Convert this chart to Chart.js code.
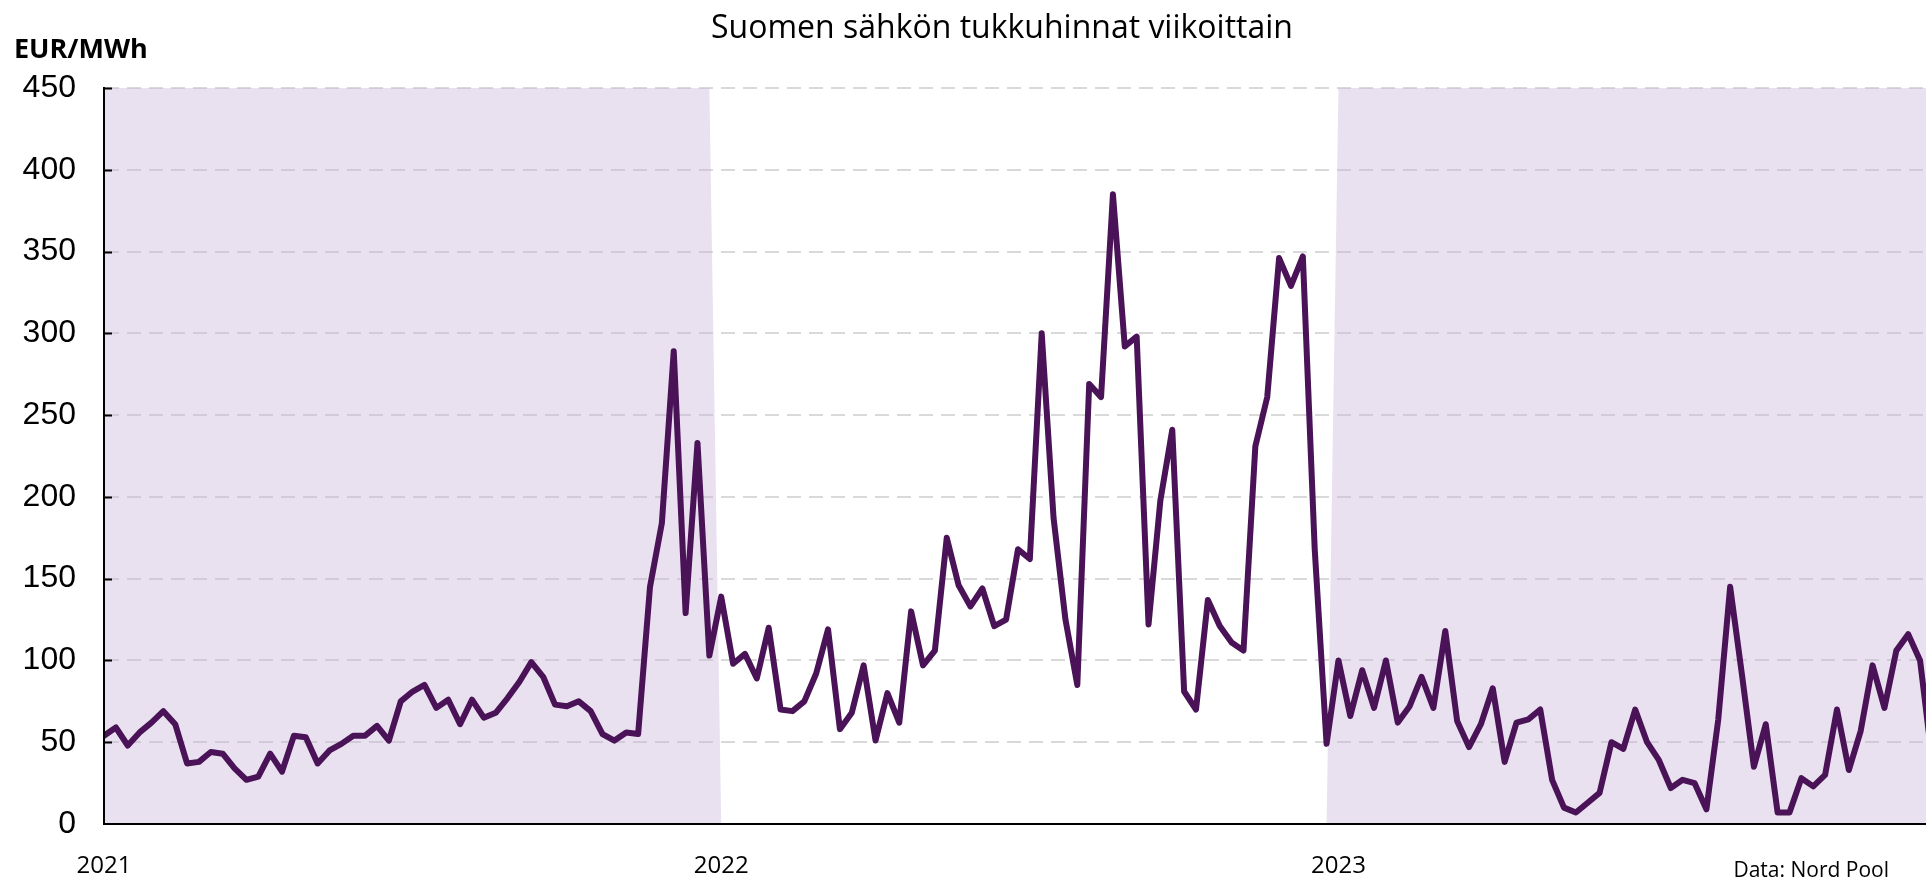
<!DOCTYPE html>
<html>
<head>
<meta charset="utf-8">
<title>Suomen sähkön tukkuhinnat viikoittain</title>
<script src="https://cdn.jsdelivr.net/npm/chart.js@4.4.1/dist/chart.umd.min.js"></script>
<style>
  html, body { margin: 0; padding: 0; background: #fff; }
  canvas { display: block; }
</style>
</head>
<body>
<canvas id="myChart" width="1926" height="879"></canvas>
<script>
const otsikko = 'Suomen sähkön tukkuhinnat viikoittain';
const yksikko = 'EUR/MWh';
const lahde = 'Data: Nord Pool';

const vuodet = ['2021', '2022', '2023'];
const varjostetut = ['2021', '2023'];

// viikkohinnat EUR/MWh, luettu kuvasta
const hinnat2021 = [54, 59, 48, 56, 62, 69, 61, 37, 38, 44, 43, 34, 27, 29, 43, 32,
  54, 53, 37, 45, 49, 54, 54, 60, 51, 75, 81, 85, 71, 76, 61, 76, 65, 68, 77, 87,
  99, 90, 73, 72, 75, 69, 55, 51, 56, 55, 145, 184, 289, 129, 233, 103];
const hinnat2022 = [139, 98, 104, 89, 120, 70, 69, 75, 92, 119, 58, 68, 97, 51, 80, 62,
  130, 97, 106, 175, 146, 133, 144, 121, 125, 168, 162, 300, 187, 125, 85, 269, 261, 385,
  292, 298, 122, 198, 241, 81, 70, 137, 121, 111, 106, 231, 261, 346, 329, 347, 168, 49];
const hinnat2023 = [100, 66, 94, 71, 100, 62, 72, 90, 71, 118, 63, 47, 61, 83, 38, 62,
  64, 70, 27, 10, 7, 13, 19, 50, 46, 70, 50, 39, 22, 27, 25, 9, 64, 145, 91, 35,
  61, 7, 7, 28, 23, 30, 70, 33, 57, 97, 71, 106, 116, 100, 40];

const yMin = 0;
const yMax = 450;
const yStep = 50;
const xNakyva = 153.5; // kuva rajautuu tähän viikkoon

const ctx = document.getElementById('myChart');

const hinnat = [];
const varjo = [];
const vuodenAlku = [];
let n = 0;
[hinnat2021, hinnat2022, hinnat2023].forEach((sarja, k) => {
  vuodenAlku.push(n);
  sarja.forEach(v => {
    hinnat.push({ x: n, y: v });
    varjo.push({ x: n, y: varjostetut.includes(vuodet[k]) ? yMax : 0 });
    n++;
  });
});

const tekstit = {
  id: 'tekstit',
  afterDraw(chart) {
    const c = chart.ctx;
    const y = chart.scales.y;
    c.save();
    // pienet merkit y-akselin sisäpuolella
    c.strokeStyle = '#000';
    c.lineWidth = 2;
    y.ticks.forEach(t => {
      if (t.value === yMin) return;
      const py = Math.round(y.getPixelForValue(t.value)) + 0.5;
      c.beginPath();
      c.moveTo(chart.chartArea.left, py);
      c.lineTo(chart.chartArea.left + 8, py);
      c.stroke();
    });
    c.fillStyle = '#000';
    c.textBaseline = 'middle';
    c.font = '32px "Open Sans"';
    c.textAlign = 'center';
    c.fillText(otsikko, 1002, 29);
    c.font = 'bold 27px "Open Sans"';
    c.textAlign = 'left';
    c.fillText(yksikko, 14, 50);
    c.font = '21px "Open Sans"';
    c.textAlign = 'right';
    c.fillText(lahde, 1889, 871);
    c.restore();
  }
};

new Chart(ctx, {
  type: 'line',
  data: {
    datasets: [
      {
        label: 'EUR/MWh',
        data: hinnat,
        borderColor: '#4a1257',
        borderWidth: 6,
        borderJoinStyle: 'round',
        borderCapStyle: 'round',
        pointRadius: 0,
        tension: 0,
        fill: false,
        order: 0
      },
      {
        label: 'varjo',
        data: varjo,
        backgroundColor: 'rgba(200, 180, 215, 0.4)',
        borderWidth: 0,
        pointRadius: 0,
        tension: 0,
        fill: 'origin',
        order: 1
      }
    ]
  },
  options: {
    responsive: false,
    animation: false,
    layout: { padding: { top: 88, right: 0, bottom: 0, left: 0 } },
    plugins: {
      legend: { display: false },
      tooltip: { enabled: false },
      title: { display: false }
    },
    scales: {
      x: {
        type: 'linear',
        min: 0,
        max: xNakyva,
        afterFit: (s) => { s.height = 55; },
        afterBuildTicks: (s) => { s.ticks = vuodenAlku.map(v => ({ value: v })); },
        grid: { display: false, drawTicks: false },
        border: { display: true, color: '#000', width: 2, z: 1 },
        ticks: {
          autoSkip: false,
          maxRotation: 0,
          padding: 28,
          color: '#000',
          font: { family: '"Open Sans"', size: 24 },
          callback: (value) => vuodet[vuodenAlku.indexOf(value)]
        }
      },
      y: {
        min: yMin,
        max: yMax,
        afterFit: (s) => { s.width = 104; },
        grid: { color: 'rgba(160, 160, 160, 0.4)', lineWidth: 2, drawTicks: false },
        border: { display: true, color: '#000', width: 2, dash: [14, 8], z: 1 },
        ticks: {
          stepSize: yStep,
          padding: 28,
          color: '#000',
          font: { family: '"Liberation Sans Narrow", "Liberation Sans", sans-serif', size: 32 }
        }
      }
    }
  },
  plugins: [tekstit]
});
</script>
</body>
</html>
